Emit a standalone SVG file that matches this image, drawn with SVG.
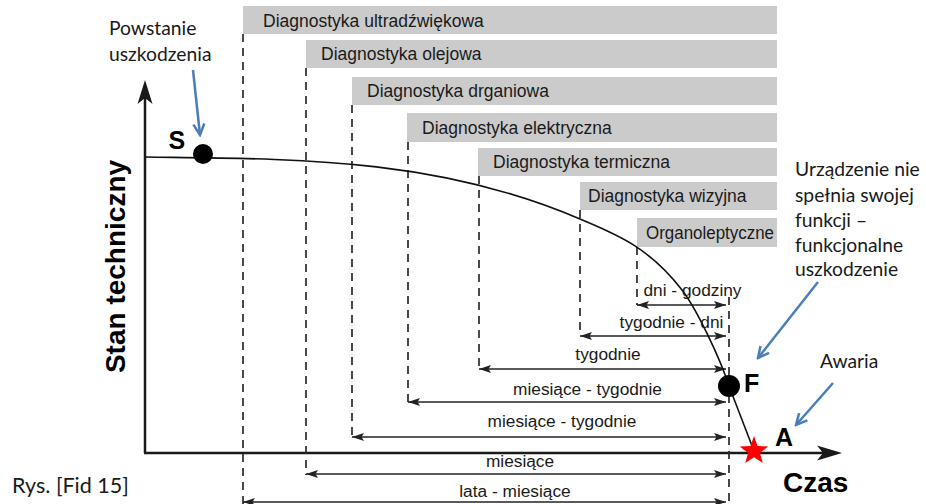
<svg xmlns="http://www.w3.org/2000/svg" width="926" height="504" viewBox="0 0 926 504">
<style>
.bar{fill:#cbcbcb}
.bt{font-family:"Liberation Sans",Arial,sans-serif;font-size:17.5px;fill:#1a1a1a}
.at{font-family:"Liberation Sans",Arial,sans-serif;font-size:17.3px;fill:#1a1a1a;text-anchor:middle}
.lbl{font-family:Lato,"Open Sans",sans-serif;font-size:19.3px;fill:#1a1a1a}
.big{font-family:"Liberation Sans",Arial,sans-serif;font-weight:bold;fill:#000}
.dash{stroke:#2a2a2a;stroke-width:1.7;stroke-dasharray:8 6;fill:none}
.dim{stroke:#222;stroke-width:1.3;fill:none;marker-start:url(#ah);marker-end:url(#ah)}
.blue{stroke:#4a7ebb;stroke-width:2.5;fill:none;marker-end:url(#bv)}
.axis{stroke:#1a1a1a;stroke-width:2.5;fill:none}
</style>
<defs>
<marker id="ah" viewBox="0 0 12 8" refX="12" refY="4" markerWidth="12" markerHeight="8" markerUnits="userSpaceOnUse" orient="auto-start-reverse">
<path d="M0,0 L12,4 L0,8 L2.5,4 Z" fill="#222"/>
</marker>
<marker id="bv" viewBox="0 0 14 14" refX="12" refY="7" markerWidth="14" markerHeight="14" markerUnits="userSpaceOnUse" orient="auto">
<path d="M1,1.5 L12,7 L1,12.5" fill="none" stroke="#4a7ebb" stroke-width="2.5"/>
</marker>
</defs>

<g id="bar-ultra"><rect class="bar" x="243" y="6" width="534" height="28"/><text class="bt" x="263" y="26.5">Diagnostyka ultradźwiękowa</text></g>
<g id="bar-olej"><rect class="bar" x="306" y="40" width="471" height="28"/><text class="bt" x="321" y="60">Diagnostyka olejowa</text></g>
<g id="bar-drgan"><rect class="bar" x="352" y="77" width="425" height="28"/><text class="bt" x="367" y="97">Diagnostyka drganiowa</text></g>
<g id="bar-elek"><rect class="bar" x="407" y="113" width="370" height="29"/><text class="bt" x="422" y="133.5">Diagnostyka elektryczna</text></g>
<g id="bar-term"><rect class="bar" x="478" y="148" width="299" height="28"/><text class="bt" x="493" y="168">Diagnostyka termiczna</text></g>
<g id="bar-wizyj"><rect class="bar" x="580" y="182" width="197" height="28"/><text class="bt" x="588" y="202">Diagnostyka wizyjna</text></g>
<g id="bar-organo"><rect class="bar" x="637" y="218" width="140" height="29"/><text class="bt" x="646" y="238.5" textLength="128" lengthAdjust="spacingAndGlyphs">Organoleptyczne</text></g>

<g id="axes">
<line class="axis" x1="145" y1="453" x2="145" y2="96"/>
<polygon points="145,80 137.5,104 145,98 152.5,104" fill="#1a1a1a"/>
<line class="axis" x1="144" y1="453" x2="826" y2="453"/>
<polygon points="842,453 817,445.5 823,453 817,460.5" fill="#1a1a1a"/>
<text class="big" font-size="28" transform="translate(125,266.5) rotate(-90)" text-anchor="middle">Stan techniczny</text>
<text class="big" font-size="28" x="783" y="492">Czas</text>
</g>

<g id="connectors">
<line class="dash" x1="243" y1="34" x2="243" y2="504"/>
<line class="dash" x1="306" y1="68" x2="306" y2="475"/>
<line class="dash" x1="352" y1="105" x2="352" y2="437"/>
<line class="dash" x1="408" y1="142" x2="408" y2="402"/>
<line class="dash" x1="479" y1="176" x2="479" y2="369"/>
<line class="dash" x1="580" y1="210" x2="580" y2="336"/>
<line class="dash" x1="637" y1="247" x2="637" y2="305"/>
<line class="dash" x1="729" y1="297" x2="729" y2="504"/>
<line class="dim" x1="637" y1="305" x2="726" y2="305"/>
<line class="dim" x1="580" y1="336" x2="726" y2="336"/>
<line class="dim" x1="479" y1="369" x2="726" y2="369"/>
<line class="dim" x1="408" y1="402" x2="726" y2="402"/>
<line class="dim" x1="352" y1="437" x2="726" y2="437"/>
<line class="dim" x1="306" y1="474" x2="726" y2="474"/>
<line class="dim" x1="243" y1="502" x2="726" y2="502"/>
<path d="M145,157 C290,159 435,156.6 580,219 C614,233.6 648,245.8 682,290 C697,309.5 720,358.4 729,386" fill="none" stroke="#111" stroke-width="1.6"/>
<line x1="729" y1="386" x2="754" y2="451" stroke="#111" stroke-width="1.6"/>
<line class="blue" x1="193" y1="70" x2="200" y2="135"/>
<line class="blue" x1="818" y1="282" x2="758" y2="358"/>
<line class="blue" x1="833" y1="383" x2="796" y2="425"/>
</g>

<g id="dim-labels">
<text class="at" x="692.5" y="296">dni - godziny</text>
<text class="at" x="671.5" y="328">tygodnie - dni</text>
<text class="at" x="608" y="360">tygodnie</text>
<text class="at" x="587.5" y="395">miesiące - tygodnie</text>
<text class="at" x="562" y="427">miesiące - tygodnie</text>
<text class="at" x="520" y="467">miesiące</text>
<text class="at" x="515" y="497">lata - miesiące</text>
</g>

<g id="point-S"><circle cx="203" cy="154" r="10" fill="#000"/><text class="big" font-size="25" x="168.5" y="149">S</text></g>
<g id="point-F"><circle cx="729" cy="386" r="11" fill="#000"/><text class="big" font-size="25" x="744" y="392">F</text></g>
<g id="point-A"><polygon points="754,436 757.6,446 768.3,446.4 759.9,452.9 762.8,463.1 754,457.2 745.2,463.1 748.1,452.9 739.7,446.4 750.4,446" fill="#ff0000"/><text class="big" font-size="25" x="775" y="446">A</text></g>

<g id="label-powstanie"><text class="lbl" x="109" y="35">Powstanie</text><text class="lbl" x="109" y="61">uszkodzenia</text></g>
<g id="label-funkc">
<text class="lbl" x="795" y="176">Urządzenie nie</text>
<text class="lbl" x="795" y="201.5">spełnia swojej</text>
<text class="lbl" x="795" y="227">funkcji –</text>
<text class="lbl" x="795" y="252">funkcjonalne</text>
<text class="lbl" x="795" y="276">uszkodzenie</text>
</g>
<g id="label-awaria"><text class="lbl" x="820" y="368">Awaria</text></g>
<g id="caption"><text class="lbl" style="font-size:21.5px" x="12" y="493">Rys. [Fid 15]</text></g>
</svg>
